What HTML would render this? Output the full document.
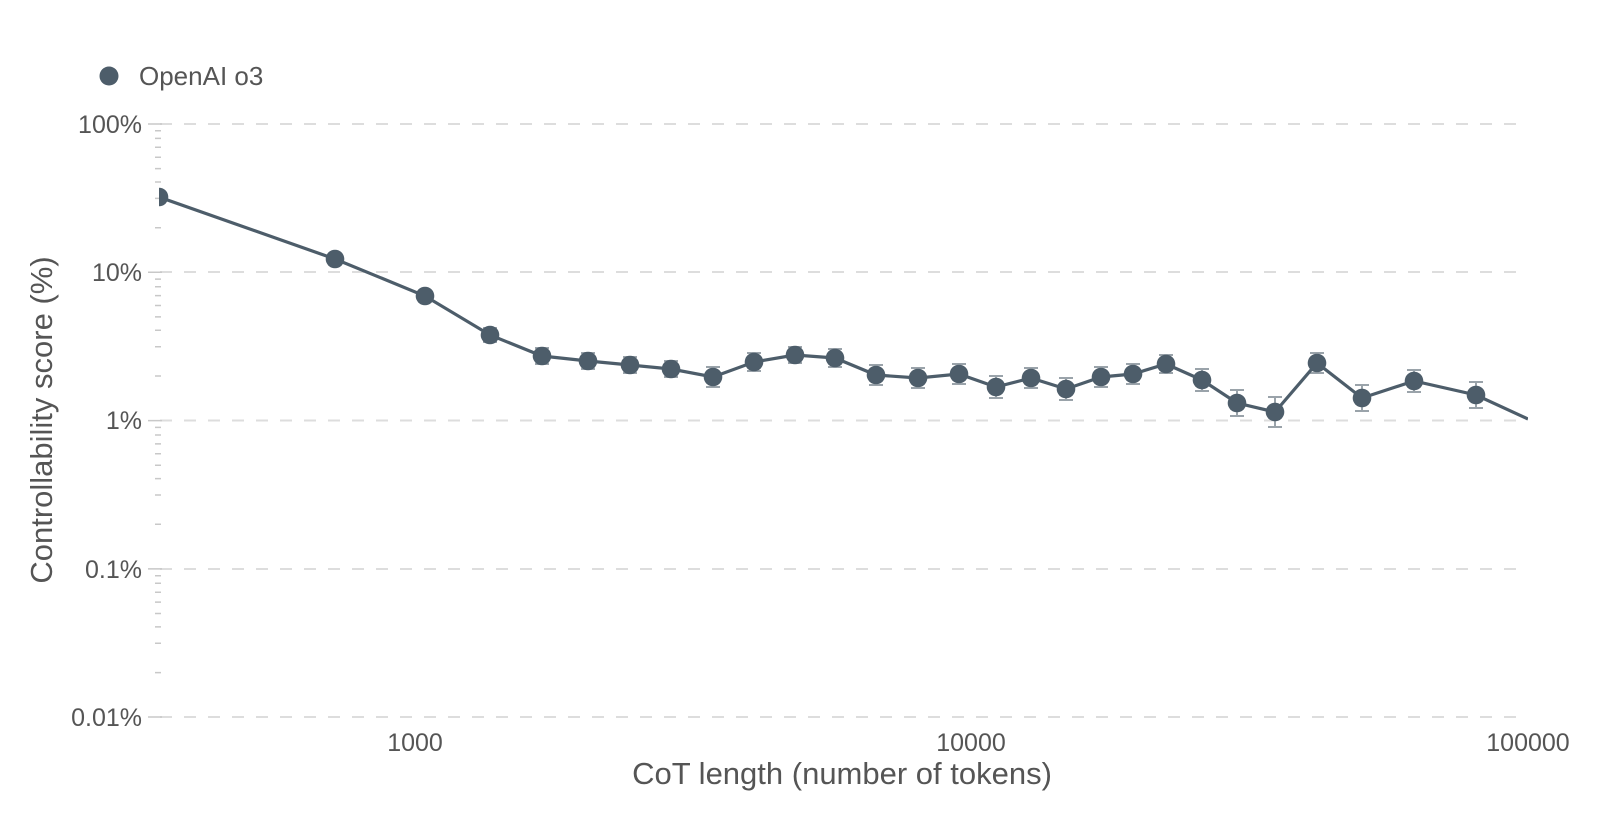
<!DOCTYPE html>
<html><head><meta charset="utf-8"><style>
html,body{margin:0;padding:0;background:#fff;}
svg{display:block;font-family:"Liberation Sans",sans-serif;}
</style></head><body>
<svg width="1600" height="817" viewBox="0 0 1600 817" xmlns="http://www.w3.org/2000/svg">
<defs><clipPath id="c"><rect x="159" y="100" width="1369" height="640"/></clipPath></defs>
<g stroke="#dddddd" stroke-width="2" stroke-dasharray="12,12">
<line x1="160" y1="124" x2="1518" y2="124"/>
<line x1="160" y1="272" x2="1518" y2="272"/>
<line x1="160" y1="420.5" x2="1518" y2="420.5"/>
<line x1="160" y1="569" x2="1518" y2="569"/>
<line x1="160" y1="717" x2="1518" y2="717"/>
</g>
<path stroke="#c8c8c8" stroke-width="1.5" fill="none" d="
M148 124H162 M148 272.3H162 M148 420.6H162 M148 568.9H162 M148 717H162
M155 130.8H161 M155 138.4H161 M155 147.3H161 M155 157.2H161 M155 168.6H161 M155 182H161 M155 198.4H161 M155 227.7H161
M155 279.1H161 M155 286.7H161 M155 295.6H161 M155 305.5H161 M155 316.9H161 M155 330.3H161 M155 346.7H161 M155 376H161
M155 427.4H161 M155 435H161 M155 443.9H161 M155 453.8H161 M155 465.2H161 M155 478.6H161 M155 495H161 M155 524.3H161
M155 575.7H161 M155 583.3H161 M155 592.2H161 M155 602.1H161 M155 613.5H161 M155 626.9H161 M155 643.3H161 M155 672.6H161"/>
<g fill="#555" font-size="25" text-anchor="end">
<text x="142" y="133">100%</text>
<text x="142" y="281">10%</text>
<text x="142" y="429">1%</text>
<text x="142" y="578">0.1%</text>
<text x="142" y="726">0.01%</text>
</g>
<g fill="#555" font-size="25" text-anchor="middle">
<text x="415" y="751">1000</text>
<text x="971" y="751">10000</text>
<text x="1528" y="751">100000</text>
</g>
<text x="842" y="784" fill="#555" font-size="31" text-anchor="middle">CoT length (number of tokens)</text>
<text transform="translate(52,420) rotate(-90)" fill="#555" font-size="31" text-anchor="middle">Controllability score (%)</text>
<circle cx="109" cy="76" r="9.5" fill="#4d5d6a"/>
<text x="139" y="85" fill="#555" font-size="26">OpenAI o3</text>
<g clip-path="url(#c)">
<path stroke="#9aa3aa" stroke-width="2" fill="none" d="
M335 255V263M328 255h14M328 263h14
M425 291V301M418 291h14M418 301h14
M490 328V342M483 328h14M483 342h14
M542 348V364M535 348h14M535 364h14
M588 353V369M581 353h14M581 369h14
M630 357V373M623 357h14M623 373h14
M671 361V377M664 361h14M664 377h14
M713 367V387M706 367h14M706 387h14
M754 353V371M747 353h14M747 371h14
M795 347V363M788 347h14M788 363h14
M835 349V367M828 349h14M828 367h14
M876 365V385M869 365h14M869 385h14
M918 368V388M911 368h14M911 388h14
M959 364V384M952 364h14M952 384h14
M996 376V398M989 376h14M989 398h14
M1031 368V388M1024 368h14M1024 388h14
M1066 378V400M1059 378h14M1059 400h14
M1101 367V387M1094 367h14M1094 387h14
M1133 364V384M1126 364h14M1126 384h14
M1166 355V373M1159 355h14M1159 373h14
M1202 369V391M1195 369h14M1195 391h14
M1237 390V416M1230 390h14M1230 416h14
M1275 397V427M1268 397h14M1268 427h14
M1317 353V373M1310 353h14M1310 373h14
M1362 385V411M1355 385h14M1355 411h14
M1414 370V392M1407 370h14M1407 392h14
M1476 382V408M1469 382h14M1469 408h14"/>
<polyline fill="none" stroke="#4d5d6a" stroke-width="3.2" points="159,197 335,259 425,296 490,335 542,356 588,361 630,365 671,369 713,377 754,362 795,355 835,358 876,375 918,378 959,374 996,387 1031,378 1066,389 1101,377 1133,374 1166,364 1202,380 1237,403 1275,412 1317,363 1362,398 1414,381 1476,395 1528,419"/>
<g fill="#4d5d6a">
<circle cx="159" cy="197" r="9.3"/><circle cx="335" cy="259" r="9.3"/><circle cx="425" cy="296" r="9.3"/><circle cx="490" cy="335" r="9.3"/><circle cx="542" cy="356" r="9.3"/><circle cx="588" cy="361" r="9.3"/><circle cx="630" cy="365" r="9.3"/><circle cx="671" cy="369" r="9.3"/><circle cx="713" cy="377" r="9.3"/><circle cx="754" cy="362" r="9.3"/><circle cx="795" cy="355" r="9.3"/><circle cx="835" cy="358" r="9.3"/><circle cx="876" cy="375" r="9.3"/><circle cx="918" cy="378" r="9.3"/><circle cx="959" cy="374" r="9.3"/><circle cx="996" cy="387" r="9.3"/><circle cx="1031" cy="378" r="9.3"/><circle cx="1066" cy="389" r="9.3"/><circle cx="1101" cy="377" r="9.3"/><circle cx="1133" cy="374" r="9.3"/><circle cx="1166" cy="364" r="9.3"/><circle cx="1202" cy="380" r="9.3"/><circle cx="1237" cy="403" r="9.3"/><circle cx="1275" cy="412" r="9.3"/><circle cx="1317" cy="363" r="9.3"/><circle cx="1362" cy="398" r="9.3"/><circle cx="1414" cy="381" r="9.3"/><circle cx="1476" cy="395" r="9.3"/>
</g>
</g>
</svg>
</body></html>
